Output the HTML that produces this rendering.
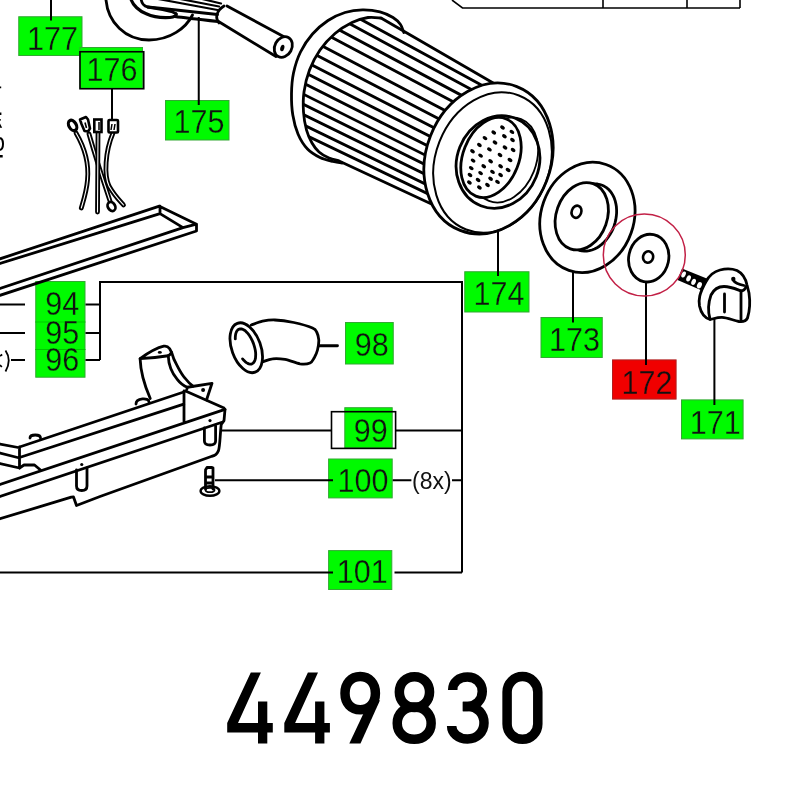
<!DOCTYPE html>
<html><head><meta charset="utf-8">
<style>
html,body{margin:0;padding:0;background:#fff;}
body{width:800px;height:800px;overflow:hidden;position:relative;}
svg{position:absolute;left:0;top:0;will-change:transform;}
text{font-family:"Liberation Sans",sans-serif;}
</style></head>
<body>
<svg width="800" height="800" viewBox="0 0 800 800">
<g id="boxes" stroke="none">
  <rect x="18.75" y="16.75" width="63.25" height="38.75" fill="#00fa00" stroke="#33a833" stroke-width="1"/>
  <rect x="80.00" y="47.50" width="62.50" height="40.75" fill="#00fa00" stroke="#33a833" stroke-width="1"/>
  <rect x="165.50" y="100.50" width="63.50" height="39.50" fill="#00fa00" stroke="#33a833" stroke-width="1"/>
  <rect x="464.75" y="271.75" width="64.25" height="40.25" fill="#00fa00" stroke="#33a833" stroke-width="1"/>
  <rect x="541.00" y="317.50" width="61.25" height="40.00" fill="#00fa00" stroke="#33a833" stroke-width="1"/>
  <rect x="612.50" y="359.90" width="63.60" height="39.20" fill="#f00000" stroke="#b02020" stroke-width="1"/>
  <rect x="681.50" y="399.90" width="61.60" height="39.00" fill="#00fa00" stroke="#33a833" stroke-width="1"/>
  <rect x="35.75" y="281.50" width="49.25" height="95.70" fill="#00fa00" stroke="#33a833" stroke-width="1"/>
  <rect x="345.50" y="322.50" width="47.75" height="41.50" fill="#00fa00" stroke="#33a833" stroke-width="1"/>
  <rect x="344.80" y="407.70" width="47.40" height="40.20" fill="#00fa00" stroke="#33a833" stroke-width="1"/>
  <rect x="328.60" y="459.00" width="63.60" height="38.90" fill="#00fa00" stroke="#33a833" stroke-width="1"/>
  <rect x="328.60" y="550.60" width="63.20" height="38.90" fill="#00fa00" stroke="#33a833" stroke-width="1"/>
</g>
<path d="M35.25 322H85.5M35.25 349.5H85.5" stroke="#00c800" stroke-width="1"/>
<defs><clipPath id="cb"><path d="M381.0 18.0 L379.6 17.9 L377.7 17.7 L375.5 17.4 L373.0 17.3 L370.5 17.3 L368.0 17.5 L365.5 17.9 L362.9 18.5 L360.2 19.3 L357.5 20.2 L354.8 21.3 L352.0 22.5 L349.2 23.9 L346.3 25.5 L343.4 27.3 L340.6 29.2 L337.7 31.3 L335.0 33.5 L332.3 35.9 L329.7 38.5 L327.1 41.2 L324.6 44.0 L322.2 47.0 L320.0 50.0 L317.9 53.1 L316.0 56.3 L314.2 59.7 L312.5 63.1 L310.9 66.5 L309.5 70.0 L308.2 73.6 L307.1 77.3 L306.1 81.0 L305.3 84.7 L304.6 88.4 L304.0 92.0 L303.6 95.5 L303.3 98.9 L303.2 102.2 L303.2 105.6 L303.3 108.8 L303.5 112.0 L303.8 115.2 L304.1 118.3 L304.6 121.4 L305.2 124.4 L305.8 127.3 L306.5 130.0 L307.3 132.5 L308.1 134.9 L309.0 137.1 L310.0 139.1 L311.0 141.1 L312.0 143.0 L313.0 144.8 L314.1 146.4 L315.2 147.9 L316.4 149.4 L317.6 150.7 L319.0 152.0 L320.5 153.2 L322.1 154.4 L323.9 155.4 L325.6 156.4 L327.4 157.2 L329.0 158.0 L330.7 158.6 L332.4 159.2 L334.1 159.6 L335.7 160.0 L337.0 160.3 L338.0 160.5 L432.0 204.3 L432.3 204.8 L432.6 205.4 L432.9 205.9 L433.2 206.4 L433.5 206.9 L433.8 207.4 L434.1 207.9 L434.4 208.4 L434.7 208.9 L435.0 209.4 L435.3 209.9 L435.6 210.3 L435.9 210.8 L436.3 211.3 L436.6 211.8 L436.9 212.2 L437.3 212.7 L437.6 213.1 L438.0 213.6 L438.3 214.0 L438.7 214.5 L439.0 214.9 L439.4 215.4 L439.8 215.8 L440.1 216.2 L440.5 216.6 L440.9 217.0 L441.3 217.5 L441.7 217.9 L442.1 218.3 L442.4 218.7 L442.8 219.1 L443.2 219.5 L443.6 219.8 L444.1 220.2 L444.5 220.6 L444.9 221.0 L445.3 221.3 L445.7 221.7 L446.1 222.1 L446.6 222.4 L447.0 222.8 L447.4 223.1 L447.9 223.4 L448.3 223.8 L448.7 224.1 L449.2 224.4 L449.6 224.7 L450.1 225.1 L450.5 225.4 L451.0 225.7 L451.5 226.0 L451.9 226.3 L452.4 226.5 L452.8 226.8 L453.3 227.1 L453.8 227.4 L454.3 227.6 L454.7 227.9 L455.2 228.2 L455.7 228.4 L456.2 228.7 L456.7 228.9 L457.2 229.1 L457.7 229.4 L458.2 229.6 L458.7 229.8 L459.2 230.0 L459.7 230.2 L460.2 230.4 L460.7 230.6 L461.2 230.8 L461.7 231.0 L462.2 231.2 L462.7 231.3 L463.2 231.5 L463.8 231.7 L464.3 231.8 L464.8 232.0 L465.3 232.1 L465.9 232.3 L466.4 232.4 L466.9 232.5 L467.4 232.7 L468.0 232.8 L468.5 232.9 L469.0 233.0 L469.6 233.1 L470.1 233.2 L470.7 233.3 L471.2 233.4 L471.8 233.5 L472.3 233.5 L472.8 233.6 L473.4 233.7 L473.9 233.7 L474.5 233.8 L475.0 233.8 L475.6 233.8 L476.1 233.9 L476.7 233.9 L477.2 233.9 L477.8 233.9 L478.4 234.0 L478.9 234.0 L479.5 234.0 L480.0 233.9 L480.6 233.9 L481.1 233.9 L481.7 233.9 L482.3 233.9 L482.8 233.8 L483.4 233.8 L483.9 233.7 L484.5 233.7 L485.1 233.6 L485.6 233.6 L486.2 233.5 L486.8 233.4 L487.3 233.3 L487.9 233.2 L488.4 233.2 L489.0 233.1 L489.6 232.9 L490.1 232.8 L490.7 232.7 L491.3 232.6 L491.8 232.5 L492.4 232.3 L492.9 232.2 L493.5 232.1 L494.1 231.9 L494.6 231.8 L495.2 231.6 L495.8 231.4 L496.3 231.3 L496.9 231.1 L497.4 230.9 L498.0 230.7 L498.5 230.5 L499.1 230.3 L499.7 230.1 L500.2 229.9 L500.8 229.7 L501.3 229.5 L501.9 229.2 L502.4 229.0 L503.0 228.8 L503.5 228.5 L504.1 228.3 L504.6 228.0 L505.1 227.8 L505.7 227.5 L506.2 227.2 L506.8 227.0 L507.3 226.7 L507.9 226.4 L508.4 226.1 L508.9 225.8 L509.5 225.5 L510.0 225.2 L510.5 224.9 L511.0 224.6 L511.6 224.2 L512.1 223.9 L512.6 223.6 L513.1 223.3 L513.7 222.9 L514.2 222.6 L514.7 222.2 L515.2 221.9 L515.7 221.5 L516.2 221.1 L516.7 220.8 L517.2 220.4 L517.7 220.0 L518.2 219.6 L518.7 219.2 L519.2 218.9 L519.7 218.5 L520.2 218.1 L520.7 217.6 L521.2 217.2 L521.7 216.8 L522.2 216.4 L522.6 216.0 L523.1 215.5 L523.6 215.1 L524.1 214.7 L524.5 214.2 L525.0 213.8 L525.5 213.3 L525.9 212.9 L526.4 212.4 L526.8 212.0 L527.3 211.5 L527.7 211.0 L528.2 210.6 L528.6 210.1 L529.1 209.6 L529.5 209.1 L529.9 208.6 L530.4 208.1 L530.8 207.6 L531.2 207.1 L531.6 206.6 L532.0 206.1 L532.5 205.6 L532.9 205.1 L533.3 204.6 L533.7 204.0 L534.1 203.5 L534.5 203.0 L534.9 202.4 L535.3 201.9 L535.6 201.4 L536.0 200.8 L536.4 200.3 L536.8 199.7 L537.2 199.2 L537.5 198.6 L537.9 198.1 L538.2 197.5 L538.6 196.9 L539.0 196.4 L539.3 195.8 L539.7 195.2 L540.0 194.6 L540.3 194.1 L540.7 193.5 L541.0 192.9 L541.3 192.3 L541.6 191.7 L542.0 191.1 L542.3 190.5 L542.6 189.9 L542.9 189.3 L543.2 188.7 L543.5 188.1 L543.8 187.5 L544.1 186.9 L544.3 186.3 L544.6 185.7 L544.9 185.1 L545.2 184.4 L545.4 183.8 L545.7 183.2 L546.0 182.6 L546.2 182.0 L546.5 181.3 L546.5 181.3 L546.7 180.7 L547.0 180.1 L547.2 179.4 L547.4 178.8 L547.6 178.2 L547.9 177.5 L548.1 176.9 L548.3 176.3 L548.5 175.6 L548.7 175.0 L548.9 174.3 L549.1 173.7 L549.3 173.0 L549.5 172.4 L549.7 171.8 L549.8 171.1 L550.0 170.5 L550.2 169.8 L550.3 169.1 L550.5 168.5 L550.7 167.8 L550.8 167.2 L550.9 166.5 L551.1 165.9 L551.2 165.2 L551.4 164.6 L551.5 163.9 L551.6 163.3 L551.7 162.6 L551.8 161.9 L551.9 161.3 L552.0 160.6 L552.1 160.0 L552.2 159.3 L552.3 158.6 L552.4 158.0 L552.5 157.3 L552.5 156.7 L552.6 156.0 L552.7 155.4 L552.7 154.7 L552.8 154.0 L552.8 153.4 L552.9 152.7 L552.9 152.1 L552.9 151.4 L553.0 150.8 L553.0 150.1 L553.0 149.5 L553.0 148.8 L553.0 148.1 L553.0 147.5 L553.0 146.8 L553.0 146.2 L553.0 145.5 L553.0 144.9 L553.0 144.2 L552.9 143.6 L552.9 143.0 L552.9 142.3 L552.8 141.7 L552.8 141.0 L552.7 140.4 L552.7 139.8 L552.6 139.1 L552.5 138.5 L552.5 137.8 L552.4 137.2 L552.3 136.6 L552.2 136.0 L552.1 135.3 L552.0 134.7 L551.9 134.1 L551.8 133.5 L551.7 132.8 L551.6 132.2 L551.5 131.6 L551.4 131.0 L551.2 130.4 L551.1 129.8 L551.0 129.2 L550.8 128.5 L550.7 127.9 L550.5 127.3 L550.4 126.7 L550.2 126.1 L550.0 125.6 L549.9 125.0 L549.7 124.4 L549.5 123.8 L549.3 123.2 L549.1 122.6 L549.0 122.0 L548.8 121.5 L548.5 120.9 L548.3 120.3 L548.1 119.8 L547.9 119.2 L547.7 118.6 L547.5 118.1 L547.2 117.5 L547.0 117.0 L546.8 116.4 L546.5 115.9 L546.3 115.3 L546.0 114.8 L545.8 114.3 L545.5 113.7 L545.2 113.2 L545.0 112.7 L544.7 112.2 L544.4 111.6 L544.1 111.1 L543.8 110.6 L543.5 110.1 L543.2 109.6 L542.9 109.1 L542.6 108.6 L542.3 108.1 L542.0 107.6 L541.7 107.1 L541.4 106.7 L541.1 106.2 L540.7 105.7 L540.4 105.2 L540.1 104.8 L539.7 104.3 L539.4 103.9 L539.0 103.4 L538.7 103.0 L538.3 102.5 L538.0 102.1 L537.6 101.6 L537.2 101.2 L536.9 100.8 L536.5 100.4 L536.1 100.0 L535.7 99.5 L535.3 99.1 L534.9 98.7 L534.6 98.3 L534.2 97.9 L533.8 97.5 L533.4 97.2 L532.9 96.8 L532.5 96.4 L532.1 96.0 L531.7 95.7 L531.3 95.3 L530.9 94.9 L530.4 94.6 L530.0 94.2 L529.6 93.9 L529.1 93.6 L528.7 93.2 L528.3 92.9 L527.8 92.6 L527.4 92.3 L526.9 91.9 L526.5 91.6 L526.0 91.3 L525.5 91.0 L525.1 90.7 L524.6 90.5 L524.2 90.2 L523.7 89.9 L523.2 89.6 L522.7 89.4 L522.3 89.1 L521.8 88.8 L521.3 88.6 L520.8 88.3 L520.3 88.1 L519.8 87.9 L519.3 87.6 L518.8 87.4 L518.3 87.2 L517.8 87.0 L517.3 86.8 L516.8 86.6 L516.3 86.4 L515.8 86.2 L515.3 86.0 L514.8 85.8 L514.3 85.7 L513.8 85.5 L513.2 85.3 L512.7 85.2 L512.2 85.0 L511.7 84.9 L511.1 84.7 L510.6 84.6 L510.1 84.5 L509.6 84.3 L509.0 84.2 L508.5 84.1 L508.0 84.0 L507.4 83.9 L506.9 83.8 L506.3 83.7 L505.8 83.6 L505.2 83.5 L504.7 83.5 L504.2 83.4 L503.6 83.3 L503.1 83.3 L502.5 83.2 L502.0 83.2 L501.4 83.2 L500.9 83.1 L500.3 83.1 L499.8 83.1 L499.2 83.1 L498.6 83.0 L498.1 83.0 L497.5 83.0 L497.0 83.1 L496.4 83.1 L495.9 83.1 L495.3 83.1 L494.7 83.1 L494.2 83.2 L493.6 83.2Z"/></clipPath></defs>
<path clip-path="url(#cb)" d="M290 -19.2L560 127.9M290 -8.5L560 137.4M290 3.6L560 148.0M290 15.3L560 158.4M290 29.1L560 170.9M290 41.4L560 181.8M290 53.7L560 192.7M290 65.0L560 202.7M290 76.2L560 212.6M290 87.5L560 222.5M290 97.8L560 231.4M290 108.0L560 240.4M290 118.3L560 249.3M290 127.6L560 257.2" stroke="#000" stroke-width="2.9" fill="none"/>
<path d="M403.8 32.5C403.2 31.2 402.3 27.0 400.5 24.5C398.7 22.0 396.4 19.6 393.0 17.5C389.6 15.4 385.1 13.1 380.0 11.8C374.9 10.5 368.3 9.7 362.5 9.8C356.7 9.9 350.8 10.7 345.0 12.5C339.2 14.3 333.4 16.9 328.0 20.5C322.6 24.1 317.1 28.8 312.5 34.0C307.9 39.2 303.7 45.5 300.5 52.0C297.3 58.5 295.0 66.0 293.5 73.0C292.0 80.0 291.6 87.0 291.5 94.0C291.4 101.0 291.7 108.3 292.8 115.0C293.9 121.7 295.6 128.3 298.0 134.0C300.4 139.7 303.8 145.1 307.5 149.0C311.2 152.9 315.8 155.4 320.0 157.5C324.2 159.6 329.3 160.6 333.0 161.5C336.7 162.4 340.5 162.8 342.0 163.0" stroke="#000" stroke-width="2.8" fill="none" stroke-linecap="round"/>
<path d="M381.0 18.0C378.8 17.9 372.8 16.8 368.0 17.5C363.2 18.2 357.5 19.8 352.0 22.5C346.5 25.2 340.3 28.9 335.0 33.5C329.7 38.1 324.2 43.9 320.0 50.0C315.8 56.1 312.2 63.0 309.5 70.0C306.8 77.0 305.0 85.0 304.0 92.0C303.0 99.0 303.1 105.7 303.5 112.0C303.9 118.3 305.1 124.8 306.5 130.0C307.9 135.2 309.9 139.3 312.0 143.0C314.1 146.7 316.2 149.5 319.0 152.0C321.8 154.5 325.8 156.6 329.0 158.0C332.2 159.4 336.5 160.1 338.0 160.5" stroke="#000" stroke-width="2.8" fill="none" stroke-linecap="round"/>
<path d="M381 18L493.6 83.2M338 160.5L432.0 204.3" stroke="#000" stroke-width="2.8" fill="none"/>
<ellipse cx="488.5" cy="158.5" rx="62.3" ry="77.3" transform="rotate(21.5 488.5 158.5)" fill="#fff" stroke="#000" stroke-width="2.8"/>
<ellipse cx="492.5" cy="162.5" rx="57" ry="72" transform="rotate(21.5 492.5 162.5)" fill="none" stroke="#000" stroke-width="2"/>
<ellipse cx="498" cy="162" rx="41" ry="47" transform="rotate(21.5 498 162)" fill="#fff" stroke="#000" stroke-width="2.8"/>
<ellipse cx="505" cy="160" rx="31" ry="44" transform="rotate(21.5 505 160)" fill="none" stroke="#000" stroke-width="1.8"/>
<ellipse cx="491" cy="157.5" rx="28" ry="41.5" transform="rotate(21.5 491 157.5)" fill="#fff" stroke="#000" stroke-width="2.8"/>
<g fill="#000"><ellipse cx="502.5" cy="127.5" rx="2.6" ry="1.8" transform="rotate(35 502.5 127.5)"/><ellipse cx="511.9" cy="131.9" rx="2.6" ry="1.8" transform="rotate(35 511.9 131.9)"/><ellipse cx="493.75" cy="132.5" rx="2.6" ry="1.8" transform="rotate(35 493.75 132.5)"/><ellipse cx="504.4" cy="136.25" rx="2.6" ry="1.8" transform="rotate(35 504.4 136.25)"/><ellipse cx="485" cy="138.1" rx="2.6" ry="1.8" transform="rotate(35 485 138.1)"/><ellipse cx="512.5" cy="140" rx="2.6" ry="1.8" transform="rotate(35 512.5 140)"/><ellipse cx="495" cy="142.5" rx="2.6" ry="1.8" transform="rotate(35 495 142.5)"/><ellipse cx="479.4" cy="145" rx="2.6" ry="1.8" transform="rotate(35 479.4 145)"/><ellipse cx="505" cy="147.5" rx="2.6" ry="1.8" transform="rotate(35 505 147.5)"/><ellipse cx="513.1" cy="150" rx="2.6" ry="1.8" transform="rotate(35 513.1 150)"/><ellipse cx="489.4" cy="149.4" rx="2.6" ry="1.8" transform="rotate(35 489.4 149.4)"/><ellipse cx="472.5" cy="151.25" rx="2.6" ry="1.8" transform="rotate(35 472.5 151.25)"/><ellipse cx="500" cy="155" rx="2.6" ry="1.8" transform="rotate(35 500 155)"/><ellipse cx="480.6" cy="155.6" rx="2.6" ry="1.8" transform="rotate(35 480.6 155.6)"/><ellipse cx="510" cy="160" rx="2.6" ry="1.8" transform="rotate(35 510 160)"/><ellipse cx="473.1" cy="160.6" rx="2.6" ry="1.8" transform="rotate(35 473.1 160.6)"/><ellipse cx="490.6" cy="161.25" rx="2.6" ry="1.8" transform="rotate(35 490.6 161.25)"/><ellipse cx="483.75" cy="166.25" rx="2.6" ry="1.8" transform="rotate(35 483.75 166.25)"/><ellipse cx="500.6" cy="166.25" rx="2.6" ry="1.8" transform="rotate(35 500.6 166.25)"/><ellipse cx="508.1" cy="170" rx="2.6" ry="1.8" transform="rotate(35 508.1 170)"/><ellipse cx="471.25" cy="168.1" rx="2.6" ry="1.8" transform="rotate(35 471.25 168.1)"/><ellipse cx="492.5" cy="171.9" rx="2.6" ry="1.8" transform="rotate(35 492.5 171.9)"/><ellipse cx="480.6" cy="173.1" rx="2.6" ry="1.8" transform="rotate(35 480.6 173.1)"/><ellipse cx="470" cy="175" rx="2.6" ry="1.8" transform="rotate(35 470 175)"/><ellipse cx="500.6" cy="175" rx="2.6" ry="1.8" transform="rotate(35 500.6 175)"/><ellipse cx="490.6" cy="178.75" rx="2.6" ry="1.8" transform="rotate(35 490.6 178.75)"/><ellipse cx="478.1" cy="180" rx="2.6" ry="1.8" transform="rotate(35 478.1 180)"/><ellipse cx="497.5" cy="181.9" rx="2.6" ry="1.8" transform="rotate(35 497.5 181.9)"/><ellipse cx="469.4" cy="182.5" rx="2.6" ry="1.8" transform="rotate(35 469.4 182.5)"/><ellipse cx="487.5" cy="185" rx="2.6" ry="1.8" transform="rotate(35 487.5 185)"/><ellipse cx="479.4" cy="187.5" rx="2.6" ry="1.8" transform="rotate(35 479.4 187.5)"/></g>
<g fill="none" stroke="#000" stroke-width="2.8" stroke-linejoin="round" stroke-linecap="round">
<path d="M106 0C108 22 125 40 149 40C170 40 186 28 192.5 15"/>
<path d="M131.25 0C133 5 139 11 146.25 13.75C152 16.5 162 18 170 17.5C174 17 177 15.5 176 14" stroke-width="3.2"/>
<path d="M147.5 7C155 8 165 10 172.5 12C175 13 176.5 14 176 14"/>
<path d="M141.25 0C142 4 144 6 147.5 7L162.5 8.5L217.5 14.5"/>
<path d="M175 16.5C182 17.5 195 19 218 21.5"/>
<path d="M158 -1L217.5 10M180 -1L219 6.5M202 -1L221 3.5" stroke-width="2.2"/>
<path d="M227 6L283.5 36.5M218.5 21.5L276 56.5"/>
<path d="M224 6C216 11 215 18 219 23"/>
</g>
<ellipse cx="283.3" cy="47" rx="8.5" ry="10.8" transform="rotate(28 283.3 47)" fill="#fff" stroke="#000" stroke-width="2.8"/>
<ellipse cx="282.3" cy="48" rx="2" ry="3.4" transform="rotate(15 282.3 48)" fill="#000"/>
<path d="M76 133C86 150 89 165 87.5 180C86.5 192 83 202 81.3 208" fill="none" stroke="#000" stroke-width="4.8" stroke-linecap="round"/><path d="M76 133C86 150 89 165 87.5 180C86.5 192 83 202 81.3 208" fill="none" stroke="#fff" stroke-width="1.1" stroke-linecap="round"/>
<path d="M89 134C95 155 103 180 110 201" fill="none" stroke="#000" stroke-width="4.8" stroke-linecap="round"/><path d="M89 134C95 155 103 180 110 201" fill="none" stroke="#fff" stroke-width="1.1" stroke-linecap="round"/>
<path d="M98 133L97.5 212" fill="none" stroke="#000" stroke-width="4.8" stroke-linecap="round"/><path d="M98 133L97.5 212" fill="none" stroke="#fff" stroke-width="1.1" stroke-linecap="round"/>
<path d="M113 133C105 152 104 175 109 186C114 195 119 200 123.5 205" fill="none" stroke="#000" stroke-width="4.8" stroke-linecap="round"/><path d="M113 133C105 152 104 175 109 186C114 195 119 200 123.5 205" fill="none" stroke="#fff" stroke-width="1.1" stroke-linecap="round"/>
<ellipse cx="72.6" cy="125.4" rx="3.6" ry="5.6" transform="rotate(-30 72.6 125.4)" fill="#fff" stroke="#000" stroke-width="3.2"/>
<ellipse cx="72" cy="126.2" rx="1" ry="1.8" transform="rotate(-30 72 126.2)" fill="#fff"/>
<path d="M80 119.5L86 117L88 119.5L90 128.5L88 131.5L84.5 131L81.5 124Z" fill="#fff" stroke="#000" stroke-width="2.6" stroke-linejoin="round"/><path d="M85 122.5L86.5 128" stroke="#000" stroke-width="1.6"/>
<rect x="94.3" y="119.5" width="7.2" height="12.5" fill="#fff" stroke="#000" stroke-width="2.6"/>
<rect x="108.5" y="120" width="9.5" height="12.5" rx="1" fill="#fff" stroke="#000" stroke-width="2.6"/>
<path d="M99 122V130M112 124L111 130M115 124L114 130" stroke="#000" stroke-width="1.5"/>
<ellipse cx="111.5" cy="206.5" rx="3.6" ry="4.8" transform="rotate(-30 111.5 206.5)" fill="#fff" stroke="#000" stroke-width="2.8"/>
<path fill="none" stroke="#000" stroke-width="2.8" stroke-linejoin="round" stroke-linecap="round" d="M0 258.8L159.4 206.2L196.5 224.2V231L0 295.3M0 263.5L160 213.6L183 227.6L0 288.5M160 206.2V213.6M183 227.6L196.5 224.2"/>
<g fill="none" stroke="#000" stroke-width="2.8" stroke-linejoin="round" stroke-linecap="round">
<path d="M19.5 447L183.75 392M19.5 457.5L183.75 404.2M0 444L19.5 447.75M0 453L19.5 458M0 463.5L19.5 468M19.5 447V468"/>
<path d="M19.5 468L24 465H34.5L40.5 470"/>
<path d="M0 484.5L225 409.4M0 496.5L221.25 422.5M184 391V422M185.5 391L224 408L224.5 410"/>
<path d="M225 409.4L224 420.6L221.25 424.4C220 435 220 446 218.5 450.6C217 454 214 456 211.9 456.25L100 496.5L76.5 505.5L73.5 497L71.25 497.2L0 518.75"/>
<path d="M76.5 470V486Q76.5 490.5 81.75 490.5Q87 490.5 87 486V468"/>
<path d="M204.4 428V441Q204.4 445 210 445Q215.6 445 215.6 441V426"/>
<path d="M30 438C30 434 40.5 434 40.5 438M136 404C136 398 149 397 149 402"/>
<path d="M140.1 358.6C148 353 156 348 163.75 346.2C166 345.8 168 346.5 169.5 348.5L171.6 352.4C170.5 354 169 355.5 168.25 355.75C160 357 150 358 140.1 358.6Z"/>
<path d="M140.1 358.6C140.5 370 143 382 150.25 398.5M168.25 355.75C168.5 363 171 372 177.25 379.4C180 383 184 386 187.4 387.25M171.6 352.4C173 358 175 362 177.25 365.9C180 371 182 375 185.1 378.25C188 382 190 384 193 386.1"/>
<path d="M186.8 389.5L187.4 387.25L212 383.3L206.5 400"/>
</g>
<circle cx="81.75" cy="464.5" r="1.6"/><circle cx="210" cy="420.6" r="1.6"/><circle cx="203.1" cy="390" r="2"/><ellipse cx="159.8" cy="352.4" rx="2" ry="1.3"/>
<path fill="none" stroke="#000" stroke-width="2.8" stroke-linejoin="round" stroke-linecap="round" d="M251.2 325.0C253.1 324.4 258.5 322.1 262.5 321.2C266.5 320.4 269.8 319.8 275.0 320.0C280.2 320.2 287.5 321.2 293.8 322.5C300.0 323.8 308.6 326.3 312.5 328.0C316.4 329.7 315.9 330.5 316.9 332.5C317.9 334.5 318.6 337.1 318.8 340.0C318.9 342.9 318.2 347.1 317.5 350.0C316.8 352.9 315.6 355.3 314.4 357.5C313.1 359.7 312.4 362.0 310.0 363.0C307.6 364.0 304.2 364.4 300.0 363.8C295.8 363.1 289.6 360.2 285.0 359.4C280.4 358.6 276.2 358.3 272.5 358.8C268.8 359.2 264.2 361.4 262.5 361.9"/>
<path fill="none" stroke="#000" stroke-width="2.8" stroke-linejoin="round" stroke-linecap="round" d="M318.75 345.75H337.5"/>
<ellipse cx="246.25" cy="347.75" rx="14.5" ry="26" transform="rotate(-20 246.25 347.75)" fill="none" stroke="#000" stroke-width="2.8"/>
<path fill="none" stroke="#000" stroke-width="2.8" stroke-linejoin="round" stroke-linecap="round" d="M235.3 338.9 L235.3 337.0 L235.5 335.2 L235.8 333.6 L236.3 332.1 L236.9 331.0 L237.7 330.0 L238.6 329.4 L239.6 329.0 L240.7 328.9 L241.9 329.0 L243.1 329.5 L244.4 330.2 L245.7 331.2 L246.9 332.4 L248.2 333.9 L249.4 335.5 L250.6 337.4 L251.6 339.3 L252.6 341.4 L253.5 343.6 L254.2 345.8 L254.8 348.0 L255.3 350.2 L255.6 352.4 L255.7 354.4 L255.6 356.4 L255.5 358.1 L255.1 359.7 L254.6 361.1 L253.9 362.2 L253.1 363.1 L252.2 363.7 L251.2 364.1 L250.1 364.1 L248.9 363.9 L247.7 363.4 L246.4 362.6 L245.1 361.6 L243.8 360.3 L242.6 358.9"/>
<ellipse cx="210" cy="491" rx="9.4" ry="4.8" transform="rotate(0 210 491)" fill="#fff" stroke="#000" stroke-width="2.4"/>
<ellipse cx="210" cy="490" rx="4.5" ry="2.2" transform="rotate(0 210 490)" fill="none" stroke="#000" stroke-width="1.8"/>
<path fill="none" stroke="#000" stroke-width="2.8" stroke-linejoin="round" stroke-linecap="round" d="M205.5 489V470M213 489V468M205.5 470L207 467.5H212L213 468M206 477H213M206 483H213" stroke-width="2.2"/>
<ellipse cx="587.4" cy="217.4" rx="46.4" ry="56.1" transform="rotate(19.3 587.4 217.4)" fill="#fff" stroke="#000" stroke-width="2.8"/>
<path d="M592.5 184.0 L595.0 183.9 L597.5 184.0 L599.9 184.5 L602.2 185.3 L604.4 186.3 L606.5 187.7 L608.5 189.3 L610.2 191.2 L611.8 193.3 L613.1 195.7 L614.3 198.2 L615.2 200.9 L615.9 203.8 L616.4 206.8 L616.6 209.9 L616.6 213.1 L616.3 216.3 L615.8 219.6 L615.0 222.8 L614.1 225.9 L612.9 229.0 L611.4 232.0 L609.8 234.8 L608.0 237.5 L606.1 240.0 L604.0 242.3 L601.7 244.4 L599.4 246.2 L597.0 247.7 L594.5 249.0 L591.9 250.0 L589.4 250.7 L586.8 251.1 L584.3 251.1 L581.8 250.9 L579.4 250.3 L577.1 249.5 L575.0 248.3 L572.9 246.9 L571.1 245.2" fill="none" stroke="#000" stroke-width="2.8" stroke-linejoin="round" stroke-linecap="round"/>
<ellipse cx="581.75" cy="216.25" rx="25.5" ry="34.5" transform="rotate(19.3 581.75 216.25)" fill="#fff" stroke="#000" stroke-width="2.8"/>
<ellipse cx="576.5" cy="211.75" rx="4.8" ry="6.2" transform="rotate(20 576.5 211.75)" fill="none" stroke="#000" stroke-width="2.6"/>
<ellipse cx="648.7" cy="258.1" rx="20" ry="24" transform="rotate(12 648.7 258.1)" fill="#fff" stroke="#000" stroke-width="2.8"/>
<ellipse cx="648.1" cy="257" rx="5" ry="5.8" transform="rotate(15 648.1 257)" fill="none" stroke="#000" stroke-width="2.6"/>
<path d="M682 268.5L708 279L703 291L677.5 280Z" fill="#000"/>
<ellipse cx="683.6" cy="274.5" rx="2" ry="3.2" transform="rotate(25 683.6 274.5)" fill="#fff"/><ellipse cx="688.6" cy="278.3" rx="2.1" ry="3.2" transform="rotate(25 688.6 278.3)" fill="#fff"/><ellipse cx="693.6" cy="281.8" rx="2.1" ry="3.2" transform="rotate(25 693.6 281.8)" fill="#fff"/><ellipse cx="699.4" cy="285.2" rx="2.3" ry="3.3" transform="rotate(25 699.4 285.2)" fill="#fff"/>
<g fill="none" stroke="#000" stroke-width="2.8" stroke-linejoin="round" stroke-linecap="round">
<path d="M706 281.5C709 276 714 271.5 720 270C726 268.5 733 269 737 270.5C742 273 745.5 278 747 285L749 293C750 300 750 310 747.5 318C746 321 743 322 739 321.5C733 320.5 728 317.5 722 317.3C717 317.2 713 319 710 319.5C705 318 701 313 699.5 306C698.5 300 699 294 706 281.5Z" fill="#fff"/>
<path d="M710 319C708 312 708.5 302 711 295C714 289 719 286.5 724 286.5C731 286.5 737 289.5 741 291C743.5 291 745.5 288.5 746.5 286"/>
<path d="M741 291V321M724.5 294V312M733.5 280.5C735 283 739 284.5 744 285.5"/>
</g>
<circle cx="733.3" cy="279" r="2.2"/>
<path d="M0 86.4h1.2v1.8h-1.2zM0 112.4h1.4v2.6h-1.4zM0 119.3h1v1.2h-1zM0 123.6L2.2 127.8H0zM0 155h2.7v2.6h-2.7z" fill="#000"/><path d="M0 138Q3.2 139 3 144Q3 149 0 150" fill="none" stroke="#000" stroke-width="2"/>
<path d="M5.5 350.5Q12 360 5.5 371.5M0 356L2.2 354.5M0 365L1.8 367" fill="none" stroke="#000" stroke-width="1.8"/>
<text x="412" y="489" font-size="23" fill="#111" >(8x)</text>

<g id="labels" font-size="32.5" text-anchor="middle" fill="#111" stroke="#00fa00" stroke-width="0.3">
  <text transform="translate(52.5 49.7) scale(0.94 1)">177</text>
  <text transform="translate(112 81) scale(0.94 1)">176</text>
  <text transform="translate(199 132.5) scale(0.94 1)">175</text>
  <text transform="translate(499 305) scale(0.94 1)">174</text>
  <text transform="translate(574.4 350.5) scale(0.94 1)">173</text>
  <text transform="translate(647 393.6) scale(0.94 1)" stroke="#f00000">172</text>
  <text transform="translate(715.3 433.6) scale(0.94 1)">171</text>
  <text transform="translate(62.25 315) scale(0.94 1)">94</text>
  <text transform="translate(62.25 343.5) scale(0.94 1)">95</text>
  <text transform="translate(62.25 370.5) scale(0.94 1)">96</text>
  <text transform="translate(371.75 356) scale(0.94 1)">98</text>
  <text transform="translate(370.8 441.6) scale(0.94 1)">99</text>
  <text transform="translate(363 492) scale(0.94 1)">100</text>
  <text transform="translate(362.3 582.8) scale(0.94 1)">101</text>
</g>
<g id="lines" stroke="#000" stroke-width="2" fill="none">
  <path d="M51 0V20.5M112 88V120M198.75 17V105M498 232V276M573 272V322.5M646 281V365M714.4 318V405"/>
  <path d="M85.5 304.5H100M85.5 333H100M85.5 360H100M100 360V282H462V572.6M0 304.5H25M0 333H25M11 360H25"/>
  <path d="M395.6 430.4H462M222 430.4H331.5M215 480.3H333M392.7 480.3H411.4M452 480.3H462M0 572.6H333M394.5 572.6H462"/>
  <path d="M452 0L462.5 8H740M603 0V8M687 0V8M740 0V8" stroke-width="1.6"/>
  <rect x="80" y="51.75" width="63.75" height="37" stroke-width="1.6"/>
  <rect x="331.5" y="411.7" width="64.1" height="36.7" stroke-width="1.6"/>
</g>
<g id="big" fill="#000">
  <path d="M250.8 672.6H260.9L238 722.9H258V701.6H267.3V722.9H272.8V732.4H267.3V743.6H258V732.4H227.2V722.9Z"/>
  <path transform="translate(57.1 0)" d="M250.8 672.6H260.9L238 722.9H258V701.6H267.3V722.9H272.8V732.4H267.3V743.6H258V732.4H227.2V722.9Z"/>
</g>
<g id="bigs" fill="none" stroke="#000" stroke-width="9.5">
  <path d="M345.00 693.20C345.00 683.24 351.08 676.60 360.20 676.60C369.32 676.60 375.40 683.24 375.40 693.20C375.40 703.16 369.32 709.80 360.20 709.80C351.08 709.80 345.00 703.16 345.00 693.20Z"/>
  <path d="M399.35 692.10C399.35 683.17 405.69 676.70 414.45 676.70C423.21 676.70 429.55 683.17 429.55 692.10C429.55 701.03 423.21 707.50 414.45 707.50C405.69 707.50 399.35 701.03 399.35 692.10Z"/>
  <path d="M397.25 723.15C397.25 713.75 404.37 706.95 414.20 706.95C424.03 706.95 431.15 713.75 431.15 723.15C431.15 732.55 424.03 739.35 414.20 739.35C404.37 739.35 397.25 732.55 397.25 723.15Z"/>
  <path d="M452.7 690C452.7 682 459 677 467.5 677C476 677 482.25 683 482.25 691.5C482.25 700 476 706.4 467.5 706.4H462.8"/>
  <path d="M462.8 706.4H468C477.5 706.4 484 714 484 723C484 732 477 739 467.5 739C458 739 451.65 733 451.65 726"/>
  <rect x="507.1" y="676.6" width="30.7" height="62.7" rx="15.35"/>
</g>
<path fill="#000" d="M380.1 700L360.5 743.6H349.3L367 706Z"/>
<circle cx="644.3" cy="255" r="41" fill="none" stroke="#c22046" stroke-width="1.5"/>
</svg>
</body></html>
